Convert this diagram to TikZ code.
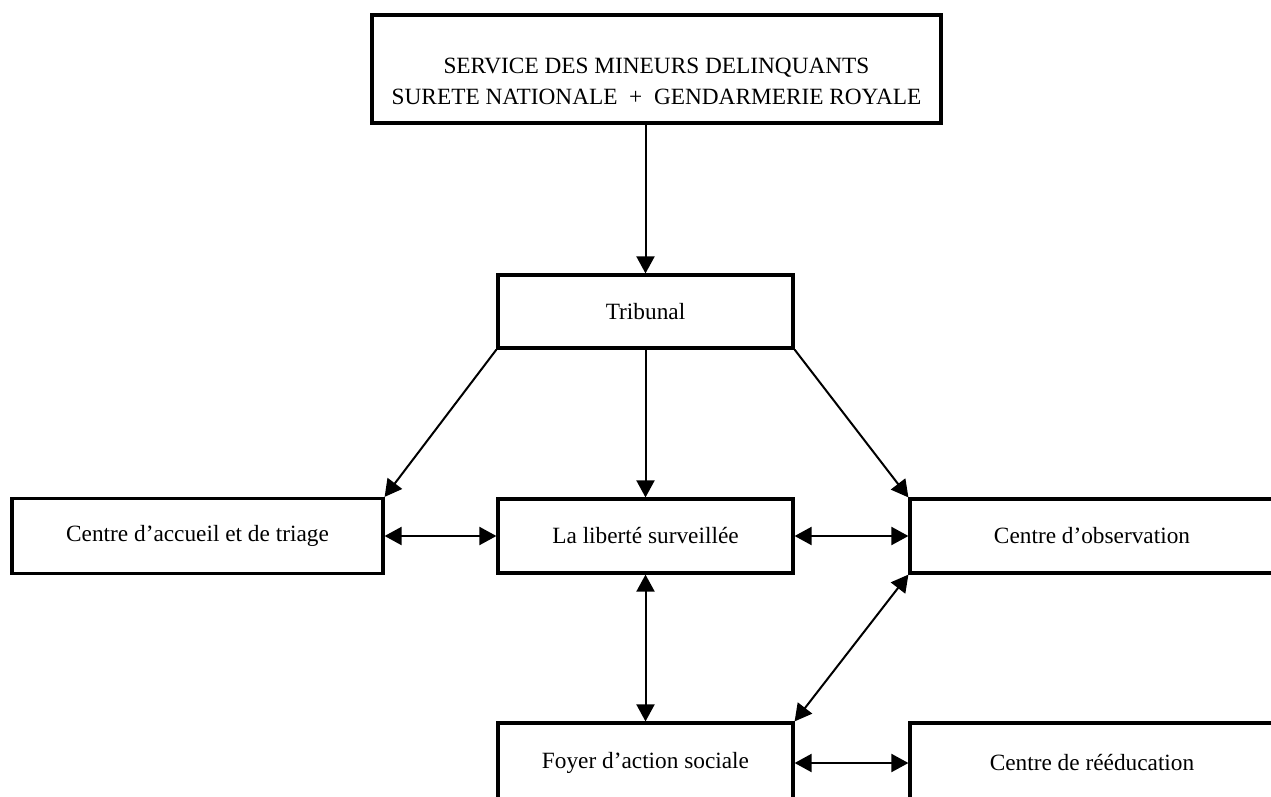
\documentclass[tikz,border=0pt]{standalone}
\usepackage{fontspec}
\setmainfont{Liberation Serif}
\usetikzlibrary{arrows.meta}
\begin{document}
\begin{tikzpicture}[x=1pt,y=-1pt,
  box/.style={draw, line width=3.2pt, inner sep=0pt, font=\fontsize{23.3}{30}\selectfont, align=center},
  lbl/.style={inner sep=0pt, font=\fontsize{23.3}{31}\selectfont, align=center},
  link/.style={line width=2pt, -{Triangle[length=17pt,width=18pt]}},
  dlink/.style={line width=2pt, {Triangle[length=17pt,width=18pt]}-{Triangle[length=17pt,width=18pt]}}]
\useasboundingbox (0,0) rectangle (1271,797);
% boxes
\node[box, line width=4pt, minimum width=569pt, minimum height=108pt] (svc) at (656.5,69) {};
\node[lbl] (svct) at (656.5,81) {SERVICE DES MINEURS DELINQUANTS\\SURETE NATIONALE \ + \ GENDARMERIE ROYALE};
\node[box, minimum width=295pt, minimum height=73pt] (trib) at (645.5,311.5) {Tribunal};
\node[box, minimum width=371pt, minimum height=75pt] (acc) at (197.5,536) {Centre d'accueil et de triage};
\node[box, minimum width=295pt, minimum height=74pt] (lib) at (645.5,536) {La liberté surveillée};
\node[box, minimum width=364pt, minimum height=74pt] (obs) at (1092,536) {Centre d'observation};
\node[box, minimum width=295pt, minimum height=80pt] (foy) at (645.5,763) {Foyer d'action sociale};
\node[box, minimum width=364pt, minimum height=80pt] (ree) at (1092,763) {Centre de rééducation};
% connectors
\draw[link] (trib.north |- svc.south) -- (trib.north);
\draw[link] (trib.south west) -- (acc.north east);
\draw[link] (trib.south) -- (lib.north);
\draw[link] (trib.south east) -- (obs.north west);
\draw[dlink] (acc.east) -- (lib.west);
\draw[dlink] (lib.east) -- (obs.west);
\draw[dlink] (lib.south) -- (foy.north);
\draw[dlink] (obs.south west) -- (foy.north east);
\draw[dlink] (foy.east) -- (ree.west);
\end{tikzpicture}
\end{document}
